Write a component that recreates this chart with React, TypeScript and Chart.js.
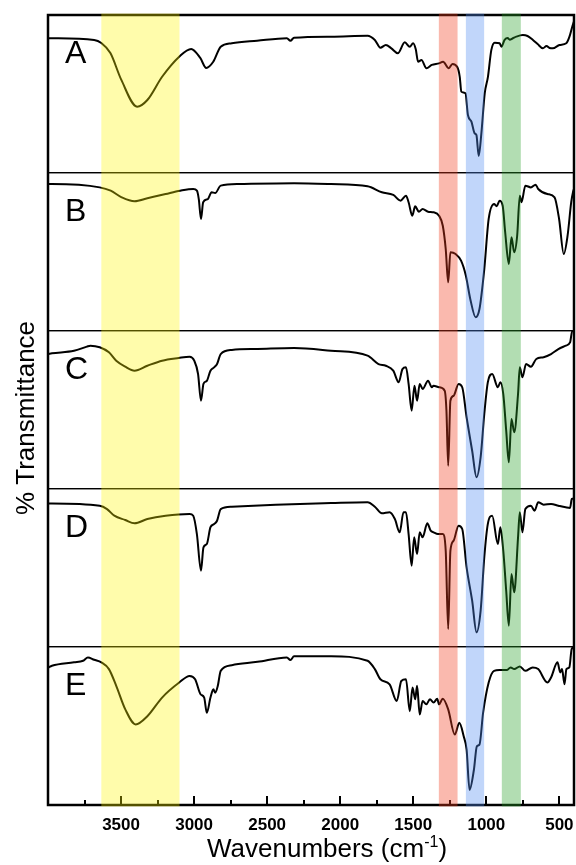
import React, { useEffect, useRef } from "react";
import { Chart, registerables } from "chart.js";

Chart.register(...registerables);

// ---- Data (wavenumber in cm-1, transmittance in % of panel) ----
const panelLabels = ["A", "B", "C", "D", "E"];

const wnA = [3998, 3684, 3635, 3573, 3498, 3390, 3320, 3219, 3102, 3020, 2958, 2917, 2869, 2818, 2742, 2569, 2365, 2341, 2316, 2063, 1813, 1763, 1725, 1688, 1650, 1606, 1558, 1524, 1501, 1483, 1467, 1444, 1410, 1373, 1324, 1296, 1257, 1232, 1198, 1182, 1171, 1143, 1126, 1102, 1080, 1068, 1052, 1034, 1011, 989, 966, 943, 909, 897, 875, 854, 840, 818, 795, 750, 718, 681, 649, 613, 588, 567, 545, 499, 453, 431, 412, 400];
const tA = [85.3, 84.2, 82.3, 75.9, 58.9, 42.0, 46.2, 60.9, 73.6, 78.5, 72.8, 66.5, 70.4, 79.9, 82.1, 83.7, 85.3, 83.7, 85.6, 86.3, 86.9, 84.2, 79.3, 81, 78.9, 75.8, 82.7, 79.9, 82.1, 78.3, 70.4, 71.5, 66.3, 68.4, 69.4, 70.4, 66.3, 69, 66.9, 60.9, 51.5, 50.4, 36.7, 32.5, 25.1, 24.1, 10.8, 25.1, 50.4, 60.9, 77.8, 82.5, 82.1, 79.9, 84.2, 85.4, 84.4, 85.3, 86.3, 87.3, 86.7, 84.2, 81.6, 78.9, 80.4, 79.1, 78.9, 81, 82.1, 86.3, 92.6, 96];

const wnB = [3998, 3973, 3646, 3571, 3496, 3408, 3320, 3195, 3095, 3006, 2981, 2968, 2953, 2938, 2906, 2880, 2856, 2818, 2692, 2316, 2063, 1813, 1715, 1637, 1587, 1550, 1532, 1507, 1487, 1462, 1436, 1399, 1361, 1324, 1298, 1278, 1261, 1246, 1210, 1173, 1140, 1110, 1073, 1047, 1014, 984, 947, 929, 909, 888, 871, 846, 828, 809, 789, 771, 759, 733, 695, 663, 645, 582, 533, 502, 470, 444, 419, 407, 400];
const tB = [93, 93, 90.9, 88.8, 84.6, 82.1, 84, 86.7, 88.8, 89.9, 88.8, 83.5, 70.9, 81.5, 83.5, 87.8, 87.3, 92, 93, 93.5, 93, 91.6, 87.8, 86.1, 82.5, 85.6, 81.5, 73, 78.9, 75.5, 77.2, 75.5, 75.1, 73, 66.6, 51.9, 30.8, 49.8, 48.7, 44.5, 35, 20.3, 8.7, 13.9, 39.2, 70.9, 80.4, 79, 82.5, 79.3, 62.5, 42.4, 59.3, 49.8, 60.3, 85.6, 81.5, 92, 90.9, 92.6, 89.9, 86.7, 84.6, 70.9, 48.7, 60.3, 81.5, 87.8, 90];

const wnC = [3998, 3973, 3822, 3734, 3710, 3646, 3583, 3533, 3471, 3408, 3320, 3219, 3106, 3031, 2999, 2973, 2953, 2936, 2913, 2888, 2863, 2843, 2818, 2742, 2566, 2316, 2063, 1813, 1738, 1688, 1637, 1600, 1574, 1550, 1532, 1511, 1492, 1474, 1456, 1436, 1399, 1373, 1361, 1324, 1285, 1273, 1261, 1246, 1224, 1190, 1165, 1135, 1097, 1067, 1039, 1014, 990, 960, 921, 904, 884, 864, 846, 828, 809, 783, 771, 753, 728, 695, 658, 608, 557, 507, 457, 427, 412, 400];
const tC = [85.5, 85.9, 87.5, 90.1, 90.7, 89.7, 86.5, 81.2, 77.4, 74.9, 78, 81.2, 82.9, 83.7, 81.2, 72.8, 55.9, 66.5, 68.5, 74.9, 77, 79.1, 85.4, 88, 88.6, 89.2, 87.5, 84.4, 79.1, 78, 74.9, 67.5, 75.9, 77, 66.5, 49.6, 65.4, 55.9, 66.5, 63.3, 68.5, 64.4, 65.4, 64.4, 62.2, 49.6, 14.7, 55.9, 59, 66.5, 64.4, 45.4, 24.2, 7.4, 20.1, 47.5, 67.5, 72.8, 64.4, 67.5, 60.1, 36.9, 16.9, 44.3, 35.9, 60.1, 77, 70.7, 79.1, 77.4, 82.3, 83.4, 85.4, 88.6, 90.7, 92.8, 100, 100];

const wnD = [3998, 3973, 3646, 3596, 3546, 3471, 3408, 3320, 3195, 3031, 3006, 2981, 2953, 2936, 2913, 2888, 2863, 2843, 2818, 2742, 2441, 2063, 1813, 1763, 1715, 1662, 1626, 1593, 1567, 1550, 1532, 1511, 1494, 1474, 1456, 1436, 1404, 1381, 1361, 1331, 1298, 1278, 1261, 1246, 1224, 1190, 1165, 1135, 1097, 1067, 1039, 1014, 990, 960, 921, 904, 884, 864, 846, 828, 809, 783, 771, 753, 733, 695, 670, 645, 608, 557, 507, 457, 427, 415, 400];
const tD = [90.9, 90.9, 89.4, 87.3, 83.1, 80.4, 78.3, 81, 83.1, 84.2, 83.1, 71.5, 48.3, 63.1, 65.2, 75.8, 77.8, 79.9, 87.3, 88.8, 90.1, 91.1, 91.6, 88.8, 84.6, 85.3, 81, 72.6, 85.3, 85.3, 71.5, 51.5, 69.4, 58.9, 72.6, 69.4, 78.3, 73.6, 72.6, 71.5, 71.5, 60.9, 11.4, 60.9, 67.3, 76.8, 74.7, 50.4, 29.3, 9.3, 23, 56.8, 77.8, 83.1, 65.2, 75.8, 60.9, 35.6, 13.5, 46.2, 34.6, 69.4, 85.3, 72.6, 87.3, 89.4, 86.3, 91.6, 90.1, 90.5, 89.4, 88.4, 88, 93.7, 94];

const wnE = [3998, 3973, 3822, 3760, 3727, 3684, 3635, 3583, 3533, 3471, 3400, 3320, 3219, 3102, 3031, 2993, 2956, 2931, 2913, 2888, 2868, 2856, 2838, 2818, 2742, 2566, 2365, 2341, 2316, 2063, 1813, 1763, 1725, 1662, 1613, 1582, 1550, 1524, 1505, 1487, 1474, 1456, 1436, 1411, 1386, 1361, 1336, 1324, 1298, 1261, 1216, 1185, 1155, 1135, 1115, 1085, 1065, 1047, 1022, 984, 947, 909, 858, 834, 809, 771, 733, 683, 645, 582, 557, 513, 494, 482, 465, 452, 432, 416, 400];
const tE = [87, 88.1, 90.3, 91.3, 93.4, 91.9, 90.3, 86, 75.4, 60.5, 51, 56.2, 68, 77.5, 81.7, 79.6, 70.1, 68, 58.4, 68, 73.2, 71.1, 75.4, 84.9, 88.5, 90.6, 93.4, 91.7, 94.1, 94.1, 91.3, 86, 79.6, 76.4, 65.8, 78.5, 79.6, 59.4, 74.3, 66.9, 75.4, 57.3, 65.8, 63.7, 66.9, 64.8, 67.3, 63.7, 67.3, 60.5, 44.6, 52, 43.5, 35, 9.6, 22.3, 37.1, 38.2, 58.4, 77.5, 84.9, 85.4, 85.5, 87.1, 86, 87.7, 84.9, 87.1, 86, 77.5, 80.7, 90.3, 83.9, 86, 76.4, 86, 87.1, 98.7, 100];

// Highlighted bands (cm-1)
const bandFrom = [3635, 1325, 1140, 894];
const bandTo = [3100, 1197, 1015, 764];
const bandColors = [
  "rgba(255,245,0,0.33)",
  "rgba(240,60,30,0.36)",
  "rgba(83,141,240,0.36)",
  "rgba(41,161,41,0.36)",
];

// X axis ticks
const xTickValues = [3750, 3500, 3250, 3000, 2750, 2500, 2250, 2000, 1750, 1500, 1250, 1000, 750, 500];
const xMin = 400;
const xMax = 4000;

const FONT = '"Liberation Sans", Arial, Helvetica, sans-serif';

const wnSets = [wnA, wnB, wnC, wnD, wnE];
const tSets = [tA, tB, tC, tD, tE];
const panelIds = ["yA", "yB", "yC", "yD", "yE"];

const overlayPlugin = {
  id: "ftirOverlay",
  afterDraw(chart: any) {
    const { ctx, chartArea: a, scales } = chart;
    const xs = scales.x;
    ctx.save();

    // panel letters
    ctx.fillStyle = "#000";
    ctx.font = `32px ${FONT}`;
    ctx.textAlign = "left";
    ctx.textBaseline = "alphabetic";
    panelIds.forEach((id, i) => {
      const s = scales[id];
      ctx.fillText(panelLabels[i], a.left + 17, s.top + 48);
    });

    // inner tick marks on bottom axis
    ctx.strokeStyle = "#000";
    ctx.lineWidth = 2;
    xTickValues.forEach((v) => {
      const px = Math.round(xs.getPixelForValue(v));
      const len = v % 500 === 0 ? 9 : 5;
      ctx.beginPath();
      ctx.moveTo(px, a.bottom);
      ctx.lineTo(px, a.bottom - len);
      ctx.stroke();
    });

    // outer frame
    ctx.lineWidth = 2.5;
    ctx.strokeRect(a.left, a.top, a.right - a.left, a.bottom - a.top);

    // colored bands overlay
    bandFrom.forEach((f, i) => {
      const x1 = xs.getPixelForValue(f);
      const x2 = xs.getPixelForValue(bandTo[i]);
      ctx.fillStyle = bandColors[i];
      ctx.fillRect(Math.min(x1, x2), a.top - 1.5, Math.abs(x2 - x1), a.bottom - a.top + 3);
    });

    // y title
    ctx.fillStyle = "#000";
    ctx.save();
    ctx.translate(a.left - 14, (a.top + a.bottom) / 2 + 8);
    ctx.rotate(-Math.PI / 2);
    ctx.font = `26px ${FONT}`;
    ctx.textAlign = "center";
    ctx.textBaseline = "alphabetic";
    ctx.fillText("% Transmittance", 0, 0);
    ctx.restore();

    // x title with superscript
    const main = "Wavenumbers (cm";
    const sup = "-1";
    const close = ")";
    ctx.textAlign = "left";
    ctx.textBaseline = "alphabetic";
    ctx.font = `26px ${FONT}`;
    const w1 = ctx.measureText(main).width;
    const w3 = ctx.measureText(close).width;
    ctx.font = `16px ${FONT}`;
    const w2 = ctx.measureText(sup).width;
    const total = w1 + w2 + w3;
    const cx = 327;
    const base = a.bottom + 52;
    let sx = cx - total / 2;
    ctx.font = `26px ${FONT}`;
    ctx.fillText(main, sx, base);
    sx += w1;
    ctx.font = `16px ${FONT}`;
    ctx.fillText(sup, sx, base - 10);
    sx += w2;
    ctx.font = `26px ${FONT}`;
    ctx.fillText(close, sx, base);

    ctx.restore();
  },
};

function buildConfig(): any {
  const datasets = panelIds.map((id, i) => ({
    label: panelLabels[i],
    data: wnSets[i].map((w, j) => ({ x: w, y: tSets[i][j] })),
    yAxisID: id,
    borderColor: "#000",
    borderWidth: 2,
    pointRadius: 0,
    fill: false,
    tension: 0.4,
    cubicInterpolationMode: "monotone",
  }));

  const scales: any = {
    x: {
      type: "linear",
      reverse: true,
      min: xMin,
      max: xMax,
      position: "bottom",
      afterBuildTicks: (s: any) => {
        s.ticks = xTickValues.map((v) => ({ value: v }));
      },
      afterFit: (s: any) => {
        s.height = 60;
        s.paddingLeft = 0;
        s.paddingRight = 0;
      },
      grid: { display: false, drawTicks: false },
      border: { display: false },
      ticks: {
        autoSkip: false,
        maxRotation: 0,
        padding: 10,
        color: "#000",
        font: { family: FONT, size: 17, weight: "bold" },
        callback: (v: any) => (Number(v) % 500 === 0 ? String(v) : ""),
      },
    },
  };
  panelIds.forEach((id, i) => {
    scales[id] = {
      type: "linear",
      position: "left",
      stack: "spectra",
      stackWeight: 1,
      weight: panelIds.length - i,
      min: 0,
      max: 100,
      offset: false,
      afterBuildTicks: (s: any) => {
        s.ticks = [{ value: 0 }, { value: 100 }];
      },
      afterFit: (s: any) => {
        s.width = 0;
        s.paddingTop = 0;
        s.paddingBottom = 0;
      },
      ticks: { display: false },
      grid: { drawTicks: false, color: "#000", lineWidth: 1.3 },
      border: { display: false },
    };
  });

  return {
    type: "line",
    data: { datasets },
    options: {
      responsive: false,
      maintainAspectRatio: false,
      animation: false,
      parsing: true,
      layout: { padding: { left: 48, right: 2, top: 15, bottom: 0 } },
      plugins: {
        legend: { display: false },
        tooltip: { enabled: false },
      },
      scales,
    },
    plugins: [overlayPlugin],
  };
}

export default function App() {
  const ref = useRef<HTMLCanvasElement>(null);
  useEffect(() => {
    document.body.style.margin = "0";
    Chart.defaults.font.family = FONT;
    const chart = new Chart(ref.current as HTMLCanvasElement, buildConfig());
    return () => chart.destroy();
  }, []);
  return (
    <div style={{ width: 576, height: 865, background: "#fff" }}>
      <canvas ref={ref} width={576} height={865} style={{ display: "block" }} />
    </div>
  );
}
